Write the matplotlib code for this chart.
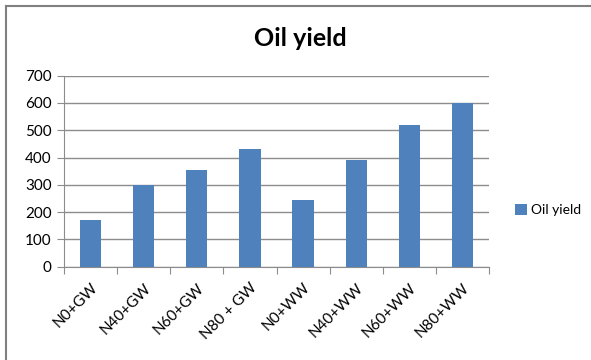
import matplotlib.pyplot as plt
from matplotlib.lines import Line2D

plt.rcParams['font.family'] = ['Lato', 'DejaVu Sans']

treatments = ['N0+GW', 'N40+GW', 'N60+GW', 'N80 + GW',
              'N0+WW', 'N40+WW', 'N60+WW', 'N80+WW']
oil_yield = [172, 298, 356, 430, 243, 391, 518, 601]
y_ticks = [0, 100, 200, 300, 400, 500, 600, 700]

bar_color = '#4F81BD'
grid_color = '#8C8C8C'

fig = plt.figure(figsize=(5.91, 3.60), dpi=100)
ax = fig.add_axes([64 / 591, 1 - 266.7 / 360, 425 / 591, 191 / 360])

x = range(len(treatments))
ax.bar(x, oil_yield, width=0.4, color=bar_color, label='Oil yield', zorder=3)

ax.set_xlim(-0.5, len(treatments) - 0.5)
ax.set_ylim(0, 700)
ax.set_yticks(y_ticks)
ax.yaxis.grid(True, color=grid_color, linewidth=1, zorder=0)

# category ticks sit between the bars
ax.set_xticks([i - 0.5 for i in range(len(treatments) + 1)])
ax.set_xticklabels([])
ax.set_xticks(list(x), minor=True)
ax.set_xticklabels(treatments, minor=True, rotation=45, ha='right',
                   rotation_mode='anchor', fontsize=11)
ax.tick_params(axis='x', which='minor', length=0, pad=10)
ax.tick_params(axis='x', which='major', length=5, color=grid_color)
ax.tick_params(axis='y', length=5, color=grid_color, labelsize=11, pad=4)

for side in ['top', 'right']:
    ax.spines[side].set_visible(False)
ax.spines['left'].set_color(grid_color)
ax.spines['bottom'].set_color(grid_color)

fig.text(0.508, 1 - 38 / 360, 'Oil yield', ha='center', va='center',
         fontsize=18, fontweight='bold')

fig.legend(loc='center left', bbox_to_anchor=(502 / 591, 1 - 210 / 360),
           frameon=False, fontsize=10, handlelength=0.9, handleheight=0.9,
           handletextpad=0.3)

# outer chart frame
fig.add_artist(Line2D([6 / 591, 1], [1 - 6 / 360, 1 - 6 / 360],
                      color='#808080', linewidth=1.5))
fig.add_artist(Line2D([6 / 591, 6 / 591], [0, 1 - 6 / 360],
                      color='#808080', linewidth=1.5))

fig.savefig('out.png', dpi=100)
